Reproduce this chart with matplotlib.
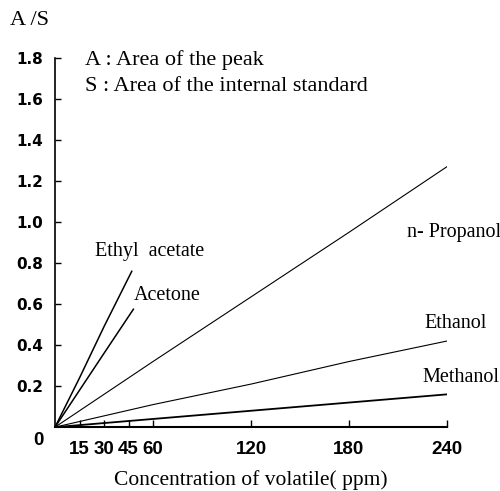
import matplotlib
matplotlib.use('Agg')
import matplotlib.pyplot as plt

# values
conc_long = [0, 60, 120, 180, 240]
methanol = [0, 0.04, 0.08, 0.12, 0.16]
ethanol = [0, 0.11, 0.21, 0.32, 0.42]
propanol = [0, 0.32, 0.635, 0.95, 1.27]

conc_acetate = [0, 15, 30, 47]
ethyl_acetate = [0, 0.24, 0.49, 0.76]
conc_acetone = [0, 15, 30, 48]
acetone = [0, 0.18, 0.36, 0.575]

xticks = [15, 30, 45, 60, 120, 180, 240]
yticks = [0.2, 0.4, 0.6, 0.8, 1.0, 1.2, 1.4, 1.6, 1.8]

serif = 'Liberation Serif'
xtickfont = {'family': 'Liberation Sans', 'weight': 'bold', 'size': 13.5}
ytickfont = {'family': 'DejaVu Sans', 'weight': 'bold', 'size': 11}

fig = plt.figure(figsize=(5, 4.91), dpi=100)
ax = fig.add_axes([0.11, 0.130, 0.784, 0.752])

ax.plot(conc_long, propanol, color='black', lw=0.8)
ax.plot(conc_long, ethanol, color='black', lw=0.8)
ax.plot(conc_long, methanol, color='black', lw=1.3)
ax.plot(conc_acetate, ethyl_acetate, color='black', lw=1.1)
ax.plot(conc_acetone, acetone, color='black', lw=1.1)

ax.set_xlim(0, 240)
ax.set_ylim(0, 1.8)
ax.spines['top'].set_visible(False)
ax.spines['right'].set_visible(False)
ax.spines['left'].set_linewidth(1.2)
ax.spines['bottom'].set_linewidth(1.5)

ax.set_xticks(xticks)
ax.set_xticklabels([str(v) for v in xticks], fontdict=xtickfont)
ax.set_yticks(yticks)
ax.set_yticklabels(['%.1f' % v for v in yticks], fontdict=ytickfont)
ax.tick_params(axis='x', direction='in', length=5, width=1, pad=10)
ax.tick_params(axis='y', direction='in', length=4, width=1, pad=8.5)

# the shared "0" at the origin
ax.text(-10, -0.065, '0', ha='center', va='center', fontdict=xtickfont)

ax.set_xlabel('Concentration of volatile( ppm)', family=serif, fontsize=15.5, labelpad=9)
fig.text(0.02, 0.958, 'A /S', family=serif, fontsize=16, ha='left', va='center')

ax.text(18.4, 1.79, 'A : Area of the peak', family=serif, fontsize=16, va='center')
ax.text(18.4, 1.66, 'S : Area of the internal standard', family=serif, fontsize=16, va='center')

ax.text(24.5, 0.854, 'Ethyl  acetate', family=serif, fontsize=14.5, va='center')
ax.text(48.4, 0.644, 'Acetone', family=serif, fontsize=14.5, va='center')
ax.text(215.5, 0.95, 'n- Propanol', family=serif, fontsize=14.5, va='center')
ax.text(226, 0.507, 'Ethanol', family=serif, fontsize=14.5, va='center')
ax.text(225, 0.24, 'Methanol', family=serif, fontsize=14.5, va='center')

fig.savefig('out.png', dpi=100, facecolor='white')
